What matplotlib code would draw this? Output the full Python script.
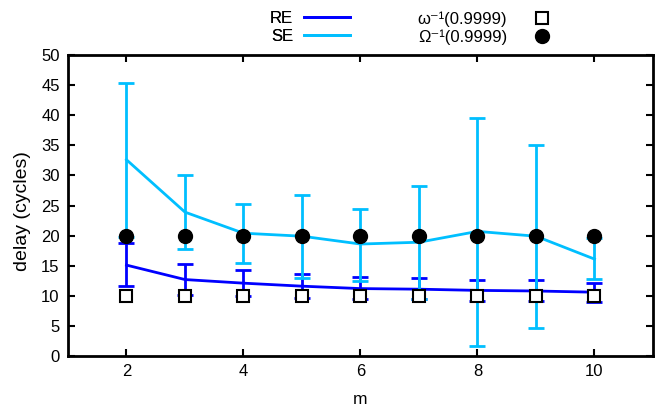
import matplotlib
matplotlib.use('Agg')
import matplotlib.pyplot as plt
from matplotlib.lines import Line2D

plt.rcParams['font.family'] = ['Liberation Sans', 'DejaVu Sans']

m = [2, 3, 4, 5, 6, 7, 8, 9, 10]

re_mean = [15.1, 12.7, 12.1, 11.6, 11.2, 11.1, 10.9, 10.8, 10.6]
re_low = [11.6, 10.1, 9.9, 9.7, 9.4, 9.4, 9.2, 9.1, 8.9]
re_high = [18.8, 15.3, 14.3, 13.6, 13.2, 13.0, 12.7, 12.6, 12.2]

se_mean = [32.6, 23.9, 20.4, 19.9, 18.6, 18.9, 20.7, 19.9, 16.1]
se_low = [19.7, 17.7, 15.5, 12.9, 12.5, 9.5, 1.7, 4.6, 12.8]
se_high = [45.4, 30.1, 25.2, 26.8, 24.4, 28.3, 39.6, 35.1, 19.6]

omega_lo = [10, 10, 10, 10, 10, 10, 10, 10, 10]
omega_hi = [20, 20, 20, 20, 20, 20, 20, 20, 20]

c_re = '#0000ff'
c_se = '#00bfff'

fig = plt.figure(figsize=(6.62, 4.12), dpi=100)
ax = fig.add_axes([0.1027, 0.1359, 0.8837, 0.7306])

re_err = [[a - b for a, b in zip(re_mean, re_low)], [b - a for a, b in zip(re_mean, re_high)]]
se_err = [[a - b for a, b in zip(se_mean, se_low)], [b - a for a, b in zip(se_mean, se_high)]]

ax.errorbar(m, re_mean, yerr=re_err, color=c_re, lw=2, elinewidth=2,
            capsize=6, capthick=2, zorder=2)
ax.errorbar(m, se_mean, yerr=se_err, color=c_se, lw=2, elinewidth=2,
            capsize=6, capthick=2, zorder=3)
ax.plot(m, omega_lo, 's', ms=8, mfc='white', mec='black', mew=1.5, zorder=4)
ax.plot(m, omega_hi, 'o', ms=10, color='black', zorder=5)

ax.set_xlim(1, 11)
ax.set_ylim(0, 50)
ax.set_xticks([2, 4, 6, 8, 10])
ax.set_yticks(range(0, 51, 5))
ax.tick_params(direction='in', length=5, width=1.5, top=True, right=True,
               labelsize=12, pad=6)
for s in ax.spines.values():
    s.set_linewidth(2)
ax.set_xlabel('m', fontsize=12.5, labelpad=9)
ax.set_ylabel('delay (cycles)', fontsize=14)
ax.yaxis.set_label_coords(-0.063, 0.48)

# gnuplot-style key: text on the left, sample on the right
line_handles = [Line2D([], [], color=c_re, lw=2), Line2D([], [], color=c_se, lw=2)]
leg1 = fig.legend(line_handles, ['RE', 'SE'], markerfirst=False, frameon=False,
                  loc='upper right', bbox_to_anchor=(0.529, 0.973), fontsize=12,
                  handlelength=2.76, handletextpad=0.66, labelspacing=0.16,
                  borderpad=0, borderaxespad=0)

mark_handles = [
    Line2D([], [], ls='none', marker='s', ms=8, mfc='white', mec='black', mew=1.5),
    Line2D([], [], ls='none', marker='o', ms=10, color='black'),
]
fig.legend(mark_handles, ['ω⁻¹(0.9999)', 'Ω⁻¹(0.9999)'],
           markerfirst=False, frameon=False,
           loc='upper right', bbox_to_anchor=(0.832, 0.973), fontsize=12,
           handlelength=1.0, handletextpad=1.6, labelspacing=0.16,
           borderpad=0, borderaxespad=0)
fig.add_artist(leg1)

fig.savefig('out.png', dpi=100)
